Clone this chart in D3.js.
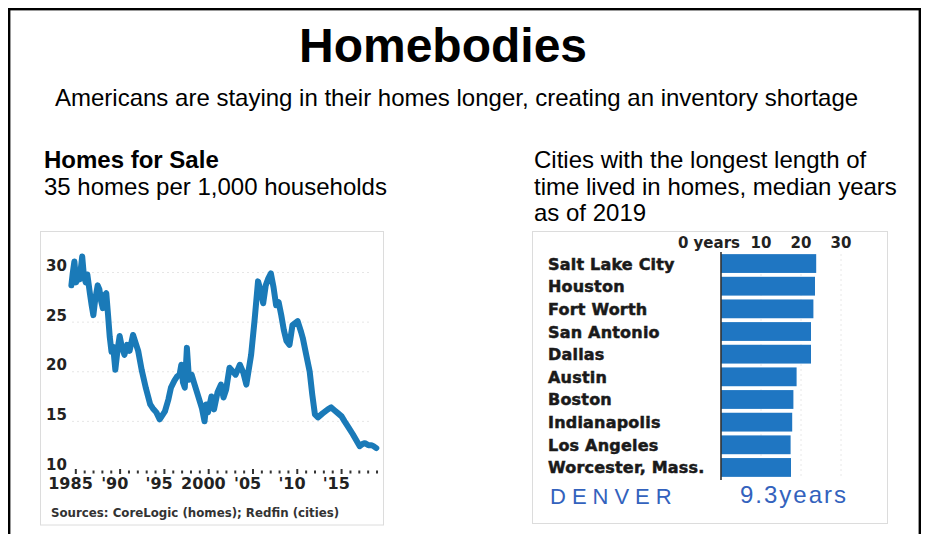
<!DOCTYPE html>
<html>
<head>
<meta charset="utf-8">
<script src="https://cdn.jsdelivr.net/npm/d3@7"></script>
<style>
  body { margin: 0; background: #fff; }
  svg { display: block; }
</style>
</head>
<body>
<div id="chart"></div>
<script>
const width = 927;
const height = 534;

// Homes for sale per 1,000 households
const saleYears = [
  1985.10, 1985.25, 1985.44, 1985.64, 1985.83, 1986.03, 1986.32, 1986.51, 1986.71, 1986.90,
  1987.19, 1987.39, 1987.58, 1987.78, 1988.07, 1988.26, 1988.46, 1988.65, 1988.85, 1989.04,
  1989.24, 1989.43, 1989.63, 1989.82, 1990.06, 1990.31, 1990.55, 1990.79, 1991.09, 1991.38,
  1991.67, 1992.06, 1992.35, 1992.64, 1993.03, 1993.52, 1994.00, 1994.30, 1994.69, 1995.07,
  1995.66, 1996.05, 1996.34, 1996.73, 1997.02, 1997.31, 1997.51, 1997.70, 1997.90, 1998.14,
  1998.38, 1998.67, 1999.01, 1999.36, 1999.84, 2000.13, 2000.33, 2000.52, 2000.91, 2001.20,
  2001.59, 2001.98, 2002.27, 2002.57, 2002.95, 2003.25, 2003.64, 2004.12, 2004.51, 2004.85,
  2005.39, 2005.78, 2006.17, 2006.46, 2006.75, 2007.04, 2007.33, 2007.62, 2007.92, 2008.21,
  2008.50, 2008.79, 2009.08, 2009.38, 2009.72, 2010.06, 2010.35, 2010.64, 2011.03, 2011.22,
  2011.61, 2012.00, 2012.29, 2012.59, 2012.93, 2013.46, 2014.05, 2014.43, 2014.82, 2015.21,
  2015.60, 2015.94, 2016.38, 2016.87, 2017.26, 2017.65, 2017.94, 2018.23, 2018.62, 2018.96,
  2019.20, 2019.52
];
const saleValues = [
  28.0, 29.2, 30.4, 28.3, 29.5, 28.6, 30.9, 29.0, 28.3, 29.1,
  27.2, 26.0, 25.0, 26.5, 28.0, 27.6, 26.4, 25.7, 27.0, 27.2,
  25.0, 22.8, 21.3, 21.8, 19.5, 21.5, 22.9, 21.8, 21.0, 22.0,
  21.4, 23.0, 22.2, 21.4, 19.5, 17.6, 16.0, 15.6, 15.2, 14.5,
  15.3, 16.5, 17.7, 18.4, 18.8, 19.0, 20.0, 18.2, 17.7, 21.7,
  18.5, 19.0, 18.0, 17.0, 15.6, 14.3, 16.0, 15.2, 16.8, 15.5,
  17.2, 18.0, 16.7, 17.5, 19.7, 19.4, 19.0, 20.0, 19.2, 18.0,
  21.0, 24.5, 28.4, 27.5, 26.2, 28.0, 28.7, 29.2, 27.8, 26.0,
  26.3, 25.0, 23.5, 22.4, 22.0, 24.0, 24.2, 24.4, 23.3, 22.7,
  21.0, 19.3, 17.0, 15.0, 14.7, 15.1, 15.5, 15.7, 15.4, 15.1,
  14.8, 14.3, 13.7, 13.0, 12.4, 11.8, 12.0, 12.1, 11.9, 11.9,
  11.8, 11.6
];
const saleTicks = [10, 15, 20, 25, 30];
const yearTicks = d3.range(1985, 2020);
const yearLabels = [[1985, "1985"], [1990, "'90"], [1995, "'95"], [2000, "2000"],
                    [2005, "'05"], [2010, "'10"], [2015, "'15"]];

// Median years lived in home, 2019
const cities = ["Salt Lake City", "Houston", "Fort Worth", "San Antonio", "Dallas",
                "Austin", "Boston", "Indianapolis", "Los Angeles", "Worcester, Mass."];
const cityYears = [23.8, 23.5, 23.1, 22.5, 22.5, 18.9, 18.1, 17.8, 17.4, 17.5];
const yearsTicks = [0, 10, 20, 30];

const sans = "'Liberation Sans', Arial, sans-serif";
const heavy = "'DejaVu Sans', 'Liberation Sans', sans-serif";

const svg = d3.select("#chart").append("svg")
  .attr("width", width)
  .attr("height", height);

svg.append("rect")
  .attr("width", width).attr("height", height)
  .attr("fill", "#fff");

// outer frame (bottom runs off the picture)
svg.append("rect")
  .attr("x", 9.2).attr("y", 9.2)
  .attr("width", 910.6).attr("height", 560)
  .attr("fill", "none")
  .attr("stroke", "#000")
  .attr("stroke-width", 2.4);

// Titles
svg.append("text")
  .attr("x", 443).attr("y", 62)
  .attr("text-anchor", "middle")
  .style("font-family", sans).style("font-weight", "bold").style("font-size", "48px")
  .text("Homebodies");

svg.append("text")
  .attr("x", 55).attr("y", 106)
  .style("font-family", sans).style("font-size", "24px")
  .text("Americans are staying in their homes longer, creating an inventory shortage");

svg.append("text")
  .attr("x", 44).attr("y", 168)
  .style("font-family", sans).style("font-weight", "bold").style("font-size", "24px")
  .text("Homes for Sale");

svg.append("text")
  .attr("x", 44).attr("y", 194.5)
  .style("font-family", sans).style("font-size", "24px")
  .text("35 homes per 1,000 households");

const rightHead = ["Cities with the longest length of", "time lived in homes, median years", "as of 2019"];
svg.append("g").selectAll("text")
  .data(rightHead)
  .enter().append("text")
  .attr("x", 534)
  .attr("y", (d, i) => 168 + i * 26.5)
  .style("font-family", sans).style("font-size", "24px")
  .text(d => d);

// ---------- Left panel: homes for sale line ----------
const left = svg.append("g");

left.append("rect")
  .attr("x", 40.5).attr("y", 231.5)
  .attr("width", 343).attr("height", 293.5)
  .attr("fill", "#fff")
  .attr("stroke", "#dcdcdc");

const x = d3.scaleLinear().domain([1985, 2019]).range([70.5, 371.7]);
const y = d3.scaleLinear().domain([10, 30]).range([464, 265.5]);

// faint dotted gridlines
left.append("g").selectAll("line")
  .data(saleTicks.filter(d => d > 10))
  .enter().append("line")
  .attr("x1", 72).attr("x2", 372)
  .attr("y1", d => y(d) + 7).attr("y2", d => y(d) + 7)
  .attr("stroke", "#e6e6e6")
  .attr("stroke-dasharray", "2,3");

left.append("g").selectAll("text")
  .data(saleTicks)
  .enter().append("text")
  .attr("x", 46)
  .attr("y", d => y(d) + 5.5)
  .style("font-family", heavy).style("font-weight", "bold").style("font-size", "15px")
  .attr("fill", "#222")
  .text(d => d);

// year tick marks
left.append("g").selectAll("rect")
  .data(yearTicks)
  .enter().append("rect")
  .attr("x", d => x(d + 0.6) - 1)
  .attr("y", d => d % 5 === 0 ? 469 : 470.5)
  .attr("width", 2)
  .attr("height", d => d % 5 === 0 ? 5 : 3)
  .attr("fill", "#333");

left.append("g").selectAll("text")
  .data(yearLabels)
  .enter().append("text")
  .attr("x", d => x(d[0]))
  .attr("y", 489)
  .attr("text-anchor", "middle")
  .style("font-family", heavy).style("font-weight", "bold").style("font-size", "16px")
  .attr("fill", "#222")
  .text(d => d[1]);

const line = d3.line()
  .x((d, i) => x(saleYears[i]))
  .y(d => y(d));

left.append("path")
  .datum(saleValues)
  .attr("d", line)
  .attr("fill", "none")
  .attr("stroke", "#1a7ab8")
  .attr("stroke-width", 6)
  .attr("stroke-linejoin", "round")
  .attr("stroke-linecap", "round");

left.append("text")
  .attr("x", 51).attr("y", 517)
  .style("font-family", heavy).style("font-weight", "bold").style("font-size", "11.8px")
  .attr("fill", "#333")
  .text("Sources: CoreLogic (homes); Redfin (cities)");

// ---------- Right panel: years in home bars ----------
const right = svg.append("g");

right.append("rect")
  .attr("x", 532.5).attr("y", 231.5)
  .attr("width", 355).attr("height", 292)
  .attr("fill", "#fff")
  .attr("stroke", "#dcdcdc");

const bx = d3.scaleLinear().domain([0, 30]).range([721, 841]);
const by = d3.scaleBand().domain(cities).range([253, 478]).paddingInner(0.17).paddingOuter(0.05);

right.append("g").selectAll("line")
  .data(yearsTicks.slice(1))
  .enter().append("line")
  .attr("x1", d => bx(d)).attr("x2", d => bx(d))
  .attr("y1", 254).attr("y2", 478)
  .attr("stroke", "#e8e8e8")
  .attr("stroke-dasharray", "2,3");

right.append("g").selectAll("text")
  .data(yearsTicks)
  .enter().append("text")
  .attr("x", d => d === 0 ? bx(d) + 19 : bx(d))
  .attr("y", 248)
  .attr("text-anchor", d => d === 0 ? "end" : "middle")
  .style("font-family", heavy).style("font-weight", "bold").style("font-size", "15px")
  .attr("fill", "#222")
  .text(d => d === 0 ? "0 years" : d);

right.append("g").selectAll("rect")
  .data(cityYears)
  .enter().append("rect")
  .attr("x", bx(0))
  .attr("y", (d, i) => by(cities[i]))
  .attr("width", d => bx(d) - bx(0))
  .attr("height", by.bandwidth())
  .attr("fill", "#1f76c2");

right.append("line")
  .attr("x1", bx(0)).attr("x2", bx(0))
  .attr("y1", 252).attr("y2", 480)
  .attr("stroke", "#333")
  .attr("stroke-width", 1.6);

right.append("g").selectAll("text")
  .data(cities)
  .enter().append("text")
  .attr("x", 548)
  .attr("y", d => by(d) + by.bandwidth() / 2 + 6)
  .style("font-family", heavy).style("font-weight", "bold").style("font-size", "16px")
  .style("letter-spacing", "0.2px")
  .attr("fill", "#1a1a1a")
  .attr("stroke", "#1a1a1a")
  .attr("stroke-width", 0.5)
  .text(d => d);

// handwritten note
right.append("text")
  .attr("x", 550).attr("y", 504)
  .style("font-family", sans).style("font-size", "22px")
  .style("letter-spacing", "6px")
  .attr("fill", "#3362bd")
  .text("DENVER");

right.append("text")
  .attr("x", 740).attr("y", 503)
  .style("font-family", sans).style("font-size", "24px")
  .style("letter-spacing", "2px")
  .attr("fill", "#3362bd")
  .text("9.3years");
</script>
</body>
</html>
